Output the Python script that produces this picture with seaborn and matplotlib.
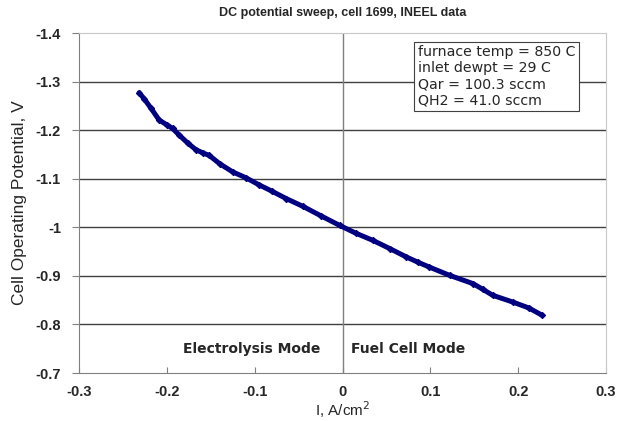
import matplotlib
matplotlib.use("Agg")
import matplotlib.pyplot as plt
import seaborn as sns
import pandas as pd

current = [-0.2315, -0.226, -0.218, -0.2087, -0.200, -0.1935, -0.186, -0.176, -0.167, -0.159,
           -0.1517, -0.140, -0.125, -0.110, -0.0946, -0.080, -0.064, -0.045, -0.025, -0.0034,
           0.015, 0.0346, 0.054, 0.0726, 0.086, 0.099, 0.122, 0.1486, 0.160, 0.171, 0.194, 0.212, 0.2276]
potential = [-1.277, -1.265, -1.245, -1.2206, -1.211, -1.2035, -1.19, -1.173, -1.16, -1.153,
             -1.148, -1.131, -1.114, -1.102, -1.087, -1.074, -1.059, -1.043, -1.024, -1.004,
             -0.988, -0.973, -0.956, -0.939, -0.928, -0.918, -0.901, -0.884, -0.872, -0.86, -0.846, -0.834, -0.8186]

info_lines = ["furnace temp = 850 C", "inlet dewpt = 29 C", "Qar = 100.3 sccm", "QH2 = 41.0 sccm"]
xticks = [-0.3, -0.2, -0.1, 0, 0.1, 0.2, 0.3]
yticks = [-1.4, -1.3, -1.2, -1.1, -1.0, -0.9, -0.8, -0.7]
ytick_labels = ["-1.4", "-1.3", "-1.2", "-1.1", "-1", "-0.9", "-0.8", "-0.7"]
xtick_labels = ["-0.3", "-0.2", "-0.1", "0", "0.1", "0.2", "0.3"]

df = pd.DataFrame({"I": current, "V": potential})

sns.set_style("white")
plt.rcParams['font.family'] = ['Liberation Sans', 'DejaVu Sans']

fig = plt.figure(figsize=(6.21, 4.21), dpi=100)
ax = fig.add_axes([79/621, 48/421, 527/621, 340/421])

sns.lineplot(data=df, x="I", y="V", ax=ax, color="#000080", linewidth=3.6,
             marker="D", markersize=3.2, markeredgecolor="#000080", sort=False)

ax.set_xlim(-0.3, 0.3)
ax.set_ylim(-0.7, -1.4)
ax.set_xticks(xticks)
ax.set_xticklabels(xtick_labels, fontweight="bold", fontsize=10.5)
ax.set_yticks(yticks)
ax.set_yticklabels(ytick_labels, fontweight="bold", fontsize=10.5)

for y in yticks[1:-1]:
    ax.axhline(y, color="#404040", linewidth=1.0, zorder=0)
ax.axvline(0, color="#808080", linewidth=1.0, zorder=0)

for s in ["left", "bottom"]:
    ax.spines[s].set_color("#808080")
for s in ["top", "right"]:
    ax.spines[s].set_color("#c8c8c8")

ax.tick_params(axis="y", direction="out", length=5, color="#808080", pad=8)
ax.tick_params(axis="x", direction="in", length=4, color="#808080", pad=9)
ax.tick_params(left=True, bottom=True)

ax.set_xlabel("I, A/cm$^2$", fontsize=11, labelpad=0)
ax.set_ylabel("Cell Operating Potential, V", fontsize=12.5, labelpad=6)
ax.set_title("DC potential sweep, cell 1699, INEEL data", fontsize=9, fontweight="bold", pad=12)

ax.text(-0.025, -0.75, "Electrolysis Mode", ha="right", va="center", fontsize=10,
        fontweight="bold", family=["DejaVu Sans"])
ax.text(0.01, -0.75, "Fuel Cell Mode", ha="left", va="center", fontsize=10,
        fontweight="bold", family=["DejaVu Sans"])

ax.text(0.0855, -1.375, "\n".join(info_lines), ha="left", va="top", fontsize=10.2,
        family=["DejaVu Sans"], linespacing=1.2,
        bbox=dict(boxstyle="square,pad=0.25", facecolor="white", edgecolor="#404040", linewidth=0.8))

fig.savefig("out.png", dpi=100)
